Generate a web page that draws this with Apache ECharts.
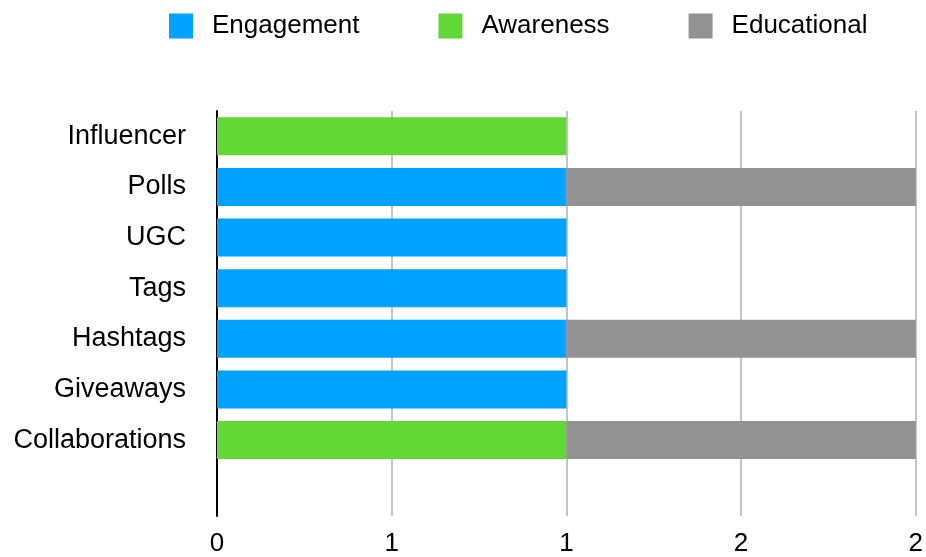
<!DOCTYPE html>
<html><head><meta charset="utf-8">
<script src="https://cdn.jsdelivr.net/npm/echarts@6/dist/echarts.min.js"></script>
<style>html,body{margin:0;padding:0;background:#fff}#c{width:926px;height:557px}</style>
</head><body><div id="c"></div>
<script>
const categories = ['Influencer','Polls','UGC','Tags','Hashtags','Giveaways','Collaborations'];
const engagement = [0,1,1,1,1,1,0];
const awareness = [1,0,0,0,0,0,1];
const educational = [0,1,0,0,1,0,1];
const xTickLabels = ['0','1','1','2','2'];
const seriesNames = ['Engagement','Awareness','Educational'];
const colors = ['#00a2ff','#61d836','#929292'];

const font = 'Liberation Sans, Helvetica, Arial, sans-serif';
const cats = categories.concat(['']);
const pad = v => v.concat([0]).map(x => x === 0 ? null : x);
const chart = echarts.init(document.getElementById('c'));
chart.setOption({
  animation: false,
  color: colors,
  legend: {
    left: 164, top: 8, itemWidth: 24, itemHeight: 25, itemGap: 79,
    icon: 'rect',
    textStyle: {fontFamily: font, fontSize: 26, color: '#000', padding: [0,0,0,14]},
    data: seriesNames
  },
  grid: {left: 217, right: 9, top: 111, bottom: 36, containLabel: false},
  xAxis: {
    type: 'value', min: 0, max: 2, interval: 0.5,
    axisLine: {show: false}, axisTick: {show: false},
    splitLine: {show: true, lineStyle: {color: '#c4c4c4', width: 2}},
    axisLabel: {fontFamily: font, fontSize: 26, color: '#000', margin: 15,
      formatter: v => xTickLabels[Math.round(v / 0.5)]}
  },
  yAxis: {
    type: 'category', inverse: true, data: cats,
    axisLine: {show: true, lineStyle: {color: '#000', width: 2}},
    axisTick: {show: false},
    axisLabel: {fontFamily: font, fontSize: 27, color: '#000', margin: 31},
    splitLine: {show: false}
  },
  series: [
    {name: seriesNames[0], type: 'bar', stack: 's', barWidth: 38, data: pad(engagement)},
    {name: seriesNames[1], type: 'bar', stack: 's', barWidth: 38, data: pad(awareness)},
    {name: seriesNames[2], type: 'bar', stack: 's', barWidth: 38, data: pad(educational)}
  ]
});
</script></body></html>
